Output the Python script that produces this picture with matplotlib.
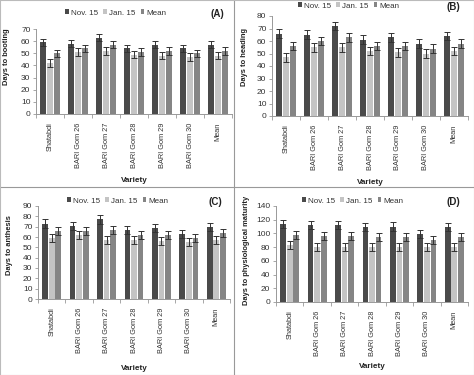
import numpy as np
import matplotlib.pyplot as plt
from matplotlib.lines import Line2D

plt.rcParams['font.family'] = ['Liberation Sans', 'DejaVu Sans']

varieties = ['Shatabdi', 'BARI Gom 26', 'BARI Gom 27', 'BARI Gom 28',
             'BARI Gom 29', 'BARI Gom 30', 'Mean']
series = ['Nov. 15', 'Jan. 15', 'Mean']
colors = ['#4a4a4a', '#c4c4c4', '#858585']

# days to booting
boot_nov = [59, 58, 63, 54, 57, 54, 57]
boot_jan = [42, 51, 52, 49, 48, 47, 48]
boot_mean = [50, 54, 57, 51, 52, 50, 52]
boot_err = [3, 3, 3, 3, 3, 3, 3]

# days to heading
head_nov = [66, 65, 72, 61, 63, 58, 64]
head_jan = [47, 55, 55, 52, 51, 50, 52]
head_mean = [56, 60, 63, 56, 56, 54, 58]
head_err = [3.5, 3.5, 3.5, 3.5, 3.5, 3.5, 3.5]

# days to anthesis
anth_nov = [73, 71, 77, 67, 69, 63, 70]
anth_jan = [59, 62, 57, 57, 56, 55, 57]
anth_mean = [66, 66, 67, 62, 62, 59, 64]
anth_err = [4, 4, 4, 4, 4, 4, 4]

# days to physiological maturity
mat_nov = [114, 112, 112, 109, 110, 99, 109]
mat_jan = [83, 80, 80, 80, 80, 80, 80]
mat_mean = [98, 96, 96, 95, 95, 90, 95]
mat_err = [6, 6, 6, 6, 6, 6, 6]

W, H = 474, 375
fig = plt.figure(figsize=(W / 100, H / 100), dpi=100)

# panel frames
fig.add_artist(Line2D([234 / W, 234 / W], [0, 1], color='#999999', lw=0.8))
fig.add_artist(Line2D([0, 1], [1 - 187 / H, 1 - 187 / H], color='#999999', lw=0.8))
for xs, ys in [([0, 1], [0.999, 0.999]), ([0, 1], [0.001, 0.001]),
               ([0.001, 0.001], [0, 1]), ([0.999, 0.999], [0, 1])]:
    fig.add_artist(Line2D(xs, ys, color='#bbbbbb', lw=0.8))

panels = [
    # values, err, ylabel, ymax, step, tag, (left, top, right, bottom px),
    # legend (x, y), xlabel y, ylabel (x, y)
    ((boot_nov, boot_jan, boot_mean), boot_err, 'Days to booting', 70, 10, '(A)',
     (36, 29, 232, 114), (116, 13), 180, (7, 57)),
    ((head_nov, head_jan, head_mean), head_err, 'Days to heading', 80, 10, '(B)',
     (272, 16, 468, 116), (349, 6), 182, (244, 57)),
    ((anth_nov, anth_jan, anth_mean), anth_err, 'Days to anthesis', 90, 10, '(C)',
     (38, 206, 230, 299), (118, 201), 368, (10, 245)),
    ((mat_nov, mat_jan, mat_mean), mat_err, 'Days to physiological maturity', 140, 20, '(D)',
     (276, 206, 468, 302), (353, 201), 367, (246, 250)),
]

x = np.arange(len(varieties))
bw = 0.21
offs = [-0.24, 0.0, 0.24]

for vals, err, ylab, ymax, step, tag, box, leg, xl_y, ylpos in panels:
    l, t, r, b = box
    ax = fig.add_axes([l / W, 1 - b / H, (r - l) / W, (b - t) / H])
    handles = []
    for k in range(3):
        h = ax.bar(x + offs[k], vals[k], bw, color=colors[k], yerr=err,
                   error_kw=dict(ecolor='#333333', elinewidth=0.7, capsize=2.2, capthick=0.7),
                   zorder=2)
        handles.append(h)
    ax.set_xlim(-0.5, len(varieties) - 0.5)
    ax.set_ylim(0, ymax)
    ax.set_yticks(np.arange(0, ymax + 1, step))
    ax.set_xticks(x)
    ax.set_xticklabels(varieties, rotation=90, fontsize=5.3, color='#333333')
    ax.set_xticks(np.arange(-0.5, len(varieties), 1), minor=True)
    ax.tick_params(axis='x', which='major', length=0, pad=6)
    ax.tick_params(axis='x', which='minor', length=3, width=0.6, color='#999999')
    ax.tick_params(axis='y', labelsize=6.0, length=2.5, width=0.6, color='#999999',
                   labelcolor='#333333', pad=1.5)
    for s in ['top', 'right']:
        ax.spines[s].set_visible(False)
    for s in ['left', 'bottom']:
        ax.spines[s].set_color('#999999')
        ax.spines[s].set_linewidth(0.7)
    fig.text(ylpos[0] / W, 1 - ylpos[1] / H, ylab, rotation=90, fontsize=5.4,
             fontweight='bold', ha='center', va='center', color='#222222')
    fig.text((l + r) / 2 / W, 1 - xl_y / H, 'Variety', fontsize=5.9, fontweight='bold',
             ha='center', va='center', color='#222222')
    fig.text((r - 8) / W, 1 - (leg[1] + 1) / H, tag, fontsize=7, fontweight='bold',
             ha='right', va='center', color='#222222')
    ax.legend(handles, series, loc='center', ncol=3, frameon=False, fontsize=5.8,
              bbox_to_anchor=(leg[0] / W, 1 - leg[1] / H), bbox_transform=fig.transFigure,
              handlelength=0.45, handleheight=0.45, handletextpad=0.3, columnspacing=0.6,
              labelcolor='#333333')

fig.savefig('out.png', dpi=100)
